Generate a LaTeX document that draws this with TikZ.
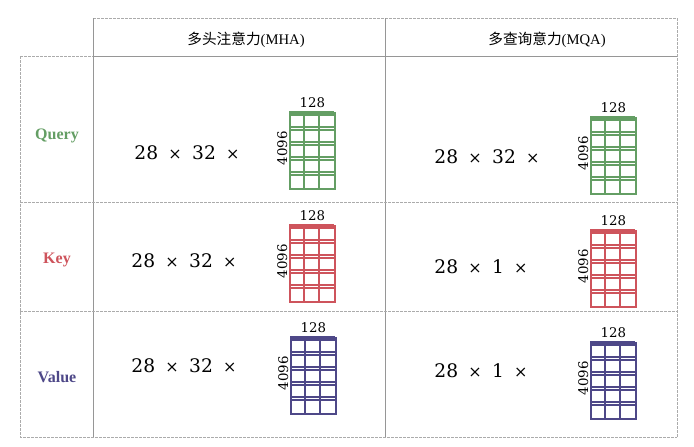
\documentclass[tikz,border=0pt]{standalone}
\usepackage{fontspec}
\setmainfont{Liberation Serif}
\newfontfamily\cjk{Noto Sans CJK SC}
\newfontfamily\numfont{DejaVu Serif}
\usetikzlibrary{positioning}

\definecolor{qgreen}{RGB}{100,158,100}
\definecolor{kred}{RGB}{206,84,92}
\definecolor{vblue}{RGB}{78,72,136}
\definecolor{rulegray}{RGB}{150,150,150}

\tikzset{
  solidrule/.style={rulegray, line width=0.6pt},
  dashrule/.style={rulegray!80, line width=0.6pt, dashed, dash pattern=on 2pt off 1pt},
  rowname/.style={font=\bfseries\fontsize{12}{14}\selectfont},
  colname/.style={font=\fontsize{11}{13}\selectfont},
  shapetext/.style={font=\numfont\fontsize{14}{16}\selectfont},
  dimtext/.style={font=\numfont\fontsize{10}{12}\selectfont, inner sep=1pt},
  gridbox/.style={minimum width=33.75pt, minimum height=57pt, inner sep=0pt,
    line width=1.3pt, anchor=north west}
}

% grid block: name, x, y, colour
\newcommand{\kvgrid}[4]{%
  \node[gridbox, draw=#4] (#1) at (#2,#3) {};
  \begin{scope}[shift={(#2,#3)}, draw=#4, line width=1.3pt]
    \foreach \r in {0,...,4} {
      \draw (0,\r*15) -- (45,\r*15);
      \draw (0,\r*15+3) -- (45,\r*15+3);
    }
    \foreach \c in {15,30} \draw (\c,0) -- (\c,76);
  \end{scope}
  \node[dimtext, above=2pt of #1.north] (#1-w) {128};
  \node[dimtext, rotate=90, above=2pt of #1.west] (#1-h) {4096};
}
\newcommand{\by}{\hspace{0.55em}{\fontsize{12}{14}\selectfont ×}\hspace{0.55em}}

\begin{document}
\begin{tikzpicture}[x=0.75pt, y=-0.75pt]
\useasboundingbox (0,0) rectangle (694,447);

% Tabla
\draw[dashrule] (93,18) -- (677,18);
\draw[dashrule] (677,18) -- (677,437);
\draw[dashrule] (20,56) -- (20,437) -- (677,437);
\draw[dashrule] (20,56) -- (93,56);
\draw[solidrule] (93,56) -- (677,56);
\draw[solidrule] (93,18) -- (93,437);
\draw[solidrule] (385,18) -- (385,437);
\draw[dashrule] (20,202) -- (677,202);
\draw[dashrule] (20,311) -- (677,311);

% Encabezados
\node[colname] (mha) at (246,40) {{\cjk 多头注意力}(MHA)};
\node[colname] (mqa) at (547,40) {{\cjk 多查询意力}(MQA)};

% Filas
\node[rowname, text=qgreen] (query) at (57,136) {Query};
\node[rowname, text=kred] (key) at (57,260) {Key};
\node[rowname, text=vblue] (value) at (57,377) {Value};

% Query
\node[shapetext] (qmha) at (187,153) {28\by 32\by};
\kvgrid{qmhag}{289}{112}{qgreen}
\node[shapetext] (qmqa) at (487,157) {28\by 32\by};
\kvgrid{qmqag}{590}{117}{qgreen}

% Key
\node[shapetext] (kmha) at (184,261) {28\by 32\by};
\kvgrid{kmhag}{289}{225}{kred}
\node[shapetext] (kmqa) at (481,267) {28\by 1\by};
\kvgrid{kmqag}{590}{230}{kred}

% Value
\node[shapetext] (vmha) at (184,366) {28\by 32\by};
\kvgrid{vmhag}{290}{337}{vblue}
\node[shapetext] (vmqa) at (481,371) {28\by 1\by};
\kvgrid{vmqag}{590}{342}{vblue}

\end{tikzpicture}
\end{document}
